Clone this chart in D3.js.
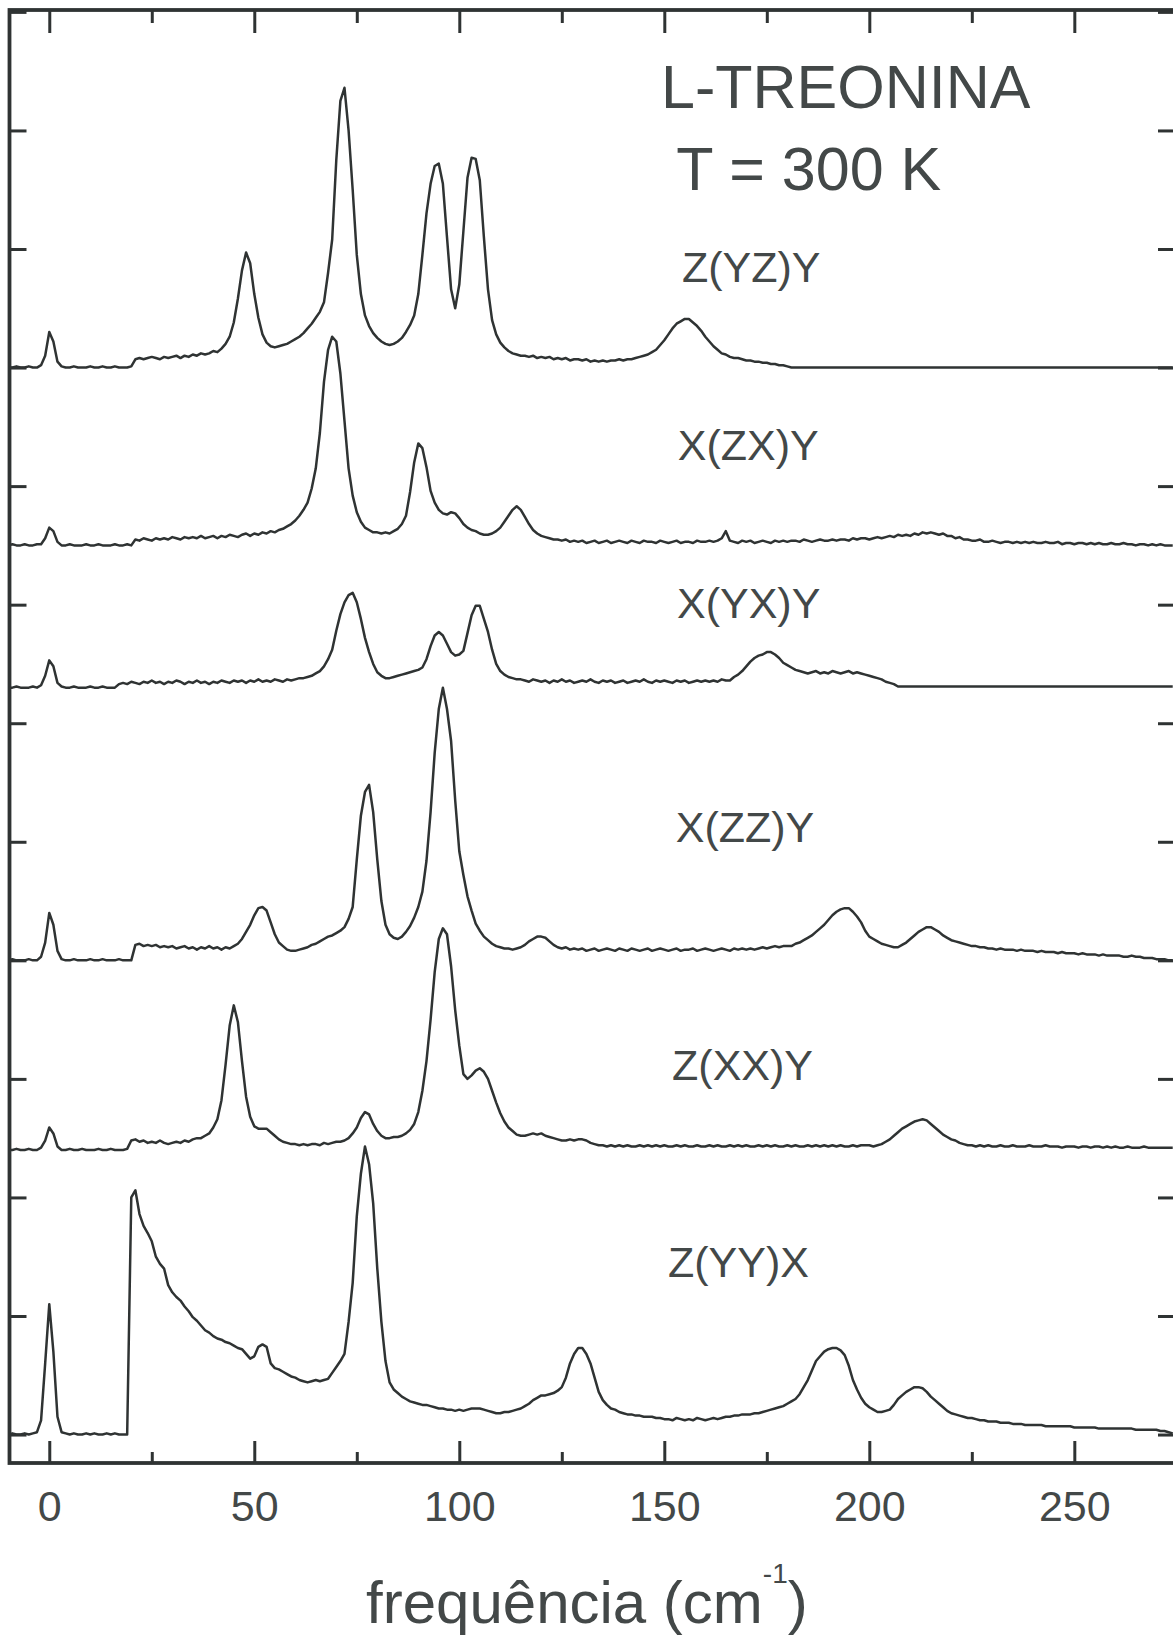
<!DOCTYPE html>
<html>
<head>
<meta charset="utf-8">
<script src="https://cdn.jsdelivr.net/npm/d3@7"></script>
<style>
  body { margin: 0; background: #fff; }
  svg { display: block; }
  text { font-family: "Liberation Sans", Arial, Helvetica, sans-serif; fill: #434848; }
</style>
</head>
<body>
<svg id="chart" width="1173" height="1636"></svg>
<script>
// Raman spectra of L-threonine at 300 K, six scattering geometries.
// Every spectrum is sampled once per cm-1, starting at freqStart.
const freqStart = -10;

// Z(YZ)Y
const zyz = [
  /* -10 */ 0,0,1,0,0,1,0,0,2,10,
  /*   0 */ 30,22,5,1,0,0,1,0,0,0,
  /*  10 */ 1,0,0,1,0,0,1,0,0,0,
  /*  20 */ 1,7,8,7,8,9,8,7,9,8,
  /*  30 */ 9,10,8,10,9,11,10,12,11,12,
  /*  40 */ 14,13,16,20,26,38,58,82,97,88,
  /*  50 */ 62,42,28,21,18,17,18,19,20,22,
  /*  60 */ 24,26,29,33,37,42,47,55,80,108,
  /*  70 */ 175,225,236,200,150,95,62,44,35,29,
  /*  80 */ 25,22,20,19,20,22,25,30,36,44,
  /*  90 */ 62,95,130,155,170,172,155,110,66,50,
  /* 100 */ 70,115,160,177,176,158,110,66,40,28,
  /* 110 */ 21,17,14,12,11,10,10,9,10,8,
  /* 120 */ 9,8,9,7,8,7,8,6,7,7,
  /* 130 */ 6,7,5,6,5,6,5,6,6,7,
  /* 140 */ 6,7,7,8,9,10,11,13,15,19,
  /* 150 */ 23,28,33,37,39,41,41,38,35,31,
  /* 160 */ 26,22,18,15,12,11,9,8,8,7,
  /* 170 */ 6,6,5,5,4,4,3,3,2,2,
  /* 180 */ 1,0,0,0,0,0,0,0,0,0,
  /* 190 */ 0,0,0,0,0,0,0,0,0,0,
  /* 200 */ 0,0,0,0,0,0,0,0,0,0,
  /* 210 */ 0,0,0,0,0,0,0,0,0,0,
  /* 220 */ 0,0,0,0,0,0,0,0,0,0,
  /* 230 */ 0,0,0,0,0,0,0,0,0,0,
  /* 240 */ 0,0,0,0,0,0,0,0,0,0,
  /* 250 */ 0,0,0,0,0,0,0,0,0,0,
  /* 260 */ 0,0,0,0,0,0,0,0,0,0,
  /* 270 */ 0,0,0,0,0
];

// X(ZX)Y
const xzx = [
  /* -10 */ 0,1,0,0,1,0,0,1,1,6,
  /*   0 */ 15,12,3,0,0,1,0,0,0,1,
  /*  10 */ 0,0,1,0,0,0,1,0,0,1,
  /*  20 */ 0,5,4,6,5,4,6,5,6,5,
  /*  30 */ 7,6,5,7,6,7,6,8,6,7,
  /*  40 */ 8,6,8,7,9,8,7,9,10,8,
  /*  50 */ 10,9,11,10,12,11,13,14,16,18,
  /*  60 */ 21,25,30,36,48,65,95,138,165,176,
  /*  70 */ 172,145,105,65,42,28,20,15,13,11,
  /*  80 */ 11,10,11,10,12,14,18,25,45,70,
  /*  90 */ 86,82,66,46,36,30,27,26,28,27,
  /* 100 */ 23,18,15,13,12,10,9,9,10,12,
  /* 110 */ 15,20,25,30,33,30,24,18,13,10,
  /* 120 */ 8,7,6,5,5,4,5,3,4,3,
  /* 130 */ 4,2,3,4,2,3,4,2,3,4,
  /* 140 */ 3,2,4,3,2,4,3,3,2,4,
  /* 150 */ 3,2,3,4,2,3,3,2,4,3,
  /* 160 */ 3,4,3,4,6,12,4,3,2,4,
  /* 170 */ 3,4,2,3,4,3,2,4,3,4,
  /* 180 */ 3,4,4,3,5,4,3,4,5,4,
  /* 190 */ 4,5,4,5,5,4,6,5,6,6,
  /* 200 */ 5,6,7,6,7,8,7,9,8,9,
  /* 210 */ 8,10,9,11,10,11,10,9,10,8,
  /* 220 */ 8,6,7,5,5,4,4,5,3,3,
  /* 230 */ 4,3,2,3,3,2,3,2,3,2,
  /* 240 */ 3,2,2,3,2,2,3,1,2,2,
  /* 250 */ 1,2,2,1,2,1,2,1,1,2,
  /* 260 */ 1,1,2,1,1,0,1,1,0,1,
  /* 270 */ 0,1,0,0,0
];

// X(YX)Y
const xyx = [
  /* -10 */ 0,0,1,0,0,0,1,0,2,10,
  /*   0 */ 23,18,4,1,0,0,1,0,0,0,
  /*  10 */ 1,0,0,1,0,0,0,3,4,3,
  /*  20 */ 5,4,3,5,4,6,4,5,3,5,
  /*  30 */ 4,6,5,3,5,4,6,4,5,3,
  /*  40 */ 5,4,6,5,4,6,5,6,4,6,
  /*  50 */ 5,7,5,6,5,7,6,5,7,6,
  /*  60 */ 7,8,8,9,10,12,14,18,24,32,
  /*  70 */ 48,62,72,78,80,72,58,42,30,20,
  /*  80 */ 13,10,8,8,9,10,11,12,13,14,
  /*  90 */ 15,17,24,35,44,47,44,37,30,27,
  /* 100 */ 28,31,46,61,69,69,58,47,32,20,
  /* 110 */ 14,11,9,8,7,7,6,5,7,6,
  /* 120 */ 5,6,4,6,5,7,5,6,4,5,
  /* 130 */ 6,5,7,5,4,6,5,6,4,5,
  /* 140 */ 6,4,5,6,5,7,5,4,6,5,
  /* 150 */ 6,5,4,6,5,6,4,5,6,5,
  /* 160 */ 6,5,6,5,7,6,6,9,11,14,
  /* 170 */ 18,22,25,27,28,30,30,28,25,21,
  /* 180 */ 19,17,15,14,13,12,13,14,12,13,
  /* 190 */ 12,14,13,12,13,14,12,13,12,11,
  /* 200 */ 10,9,8,7,5,4,3,1,1,1,
  /* 210 */ 1,1,1,1,1,1,1,1,1,1,
  /* 220 */ 1,1,1,1,1,1,1,1,1,1,
  /* 230 */ 1,1,1,1,1,1,1,1,1,1,
  /* 240 */ 1,1,1,1,1,1,1,1,1,1,
  /* 250 */ 1,1,1,1,1,1,1,1,1,1,
  /* 260 */ 1,1,1,1,1,1,1,1,1,1,
  /* 270 */ 1,1,1,1,1
];

// X(ZZ)Y
const xzz = [
  /* -10 */ 0,1,0,0,0,1,0,0,3,15,
  /*   0 */ 40,30,8,1,0,0,1,0,0,0,
  /*  10 */ 1,0,0,1,0,0,0,1,0,0,
  /*  20 */ 0,13,14,12,13,12,13,11,12,11,
  /*  30 */ 12,10,11,12,10,11,9,11,10,12,
  /*  40 */ 10,11,9,11,10,12,14,18,24,30,
  /*  50 */ 38,44,45,42,32,22,15,12,9,8,
  /*  60 */ 8,9,10,11,13,14,16,18,20,21,
  /*  70 */ 23,25,28,35,45,85,122,142,148,125,
  /*  80 */ 85,50,30,22,19,18,20,24,29,36,
  /*  90 */ 45,58,84,125,175,212,230,212,185,135,
  /* 100 */ 92,72,54,42,31,25,20,17,14,12,
  /* 110 */ 11,10,10,9,10,11,13,16,18,20,
  /* 120 */ 20,19,16,13,11,10,11,9,10,9,
  /* 130 */ 10,8,9,10,8,9,10,9,8,10,
  /* 140 */ 9,8,10,9,8,9,10,8,9,10,
  /* 150 */ 9,8,9,10,8,9,9,10,8,9,
  /* 160 */ 10,9,8,9,10,9,8,10,9,10,
  /* 170 */ 9,10,9,10,11,10,11,12,11,12,
  /* 180 */ 12,12,14,15,17,19,21,24,27,30,
  /* 190 */ 34,38,41,43,44,44,41,37,32,25,
  /* 200 */ 20,18,16,14,13,12,11,11,13,15,
  /* 210 */ 18,21,24,26,28,28,26,24,21,19,
  /* 220 */ 17,16,15,14,13,12,12,11,11,10,
  /* 230 */ 10,9,10,9,9,9,8,9,8,8,
  /* 240 */ 8,7,8,7,7,7,6,7,6,6,
  /* 250 */ 6,5,6,5,5,5,4,5,4,4,
  /* 260 */ 4,4,3,3,4,3,3,2,2,2,
  /* 270 */ 1,1,1,0,0
];

// Z(XX)Y
const zxx = [
  /* -10 */ 0,0,1,0,0,1,0,0,2,8,
  /*   0 */ 19,14,3,0,0,1,0,0,1,0,
  /*  10 */ 0,0,1,0,0,1,0,0,0,1,
  /*  20 */ 8,9,7,8,6,7,6,8,6,5,
  /*  30 */ 6,7,6,8,7,9,10,10,12,14,
  /*  40 */ 19,26,42,72,105,122,108,75,45,28,
  /*  50 */ 20,18,18,18,15,12,9,7,6,5,
  /*  60 */ 5,4,5,4,5,5,4,6,5,6,
  /*  70 */ 7,7,8,10,14,19,27,32,30,22,
  /*  80 */ 16,12,10,10,11,11,12,14,17,22,
  /*  90 */ 32,50,75,110,150,178,187,182,155,118,
  /* 100 */ 88,64,60,63,67,69,66,60,50,40,
  /* 110 */ 31,24,19,16,13,12,12,13,14,13,
  /* 120 */ 14,12,11,10,9,8,8,9,8,9,
  /* 130 */ 9,8,6,5,4,4,3,4,3,4,
  /* 140 */ 3,4,3,3,4,3,4,3,4,3,
  /* 150 */ 4,3,3,4,3,4,3,3,4,3,
  /* 160 */ 3,4,3,4,3,3,4,3,4,3,
  /* 170 */ 4,3,3,4,3,4,3,4,3,3,
  /* 180 */ 4,3,4,3,3,4,3,4,3,4,
  /* 190 */ 3,4,3,4,3,3,4,3,4,4,
  /* 200 */ 4,3,4,5,7,9,12,15,18,20,
  /* 210 */ 22,24,25,26,25,22,19,16,13,11,
  /* 220 */ 9,8,6,5,4,4,3,4,3,4,
  /* 230 */ 3,3,4,3,3,4,3,3,3,4,
  /* 240 */ 3,3,3,4,3,3,3,2,3,3,
  /* 250 */ 3,2,3,3,2,3,3,2,3,2,
  /* 260 */ 3,2,2,3,2,2,2,3,2,2,
  /* 270 */ 2,2,2,2,2
];

// Z(YY)X
const zyy = [
  /* -10 */ 0,1,0,0,1,0,1,2,12,60,
  /*   0 */ 110,70,15,2,1,0,1,0,0,1,
  /*  10 */ 0,1,0,0,1,0,1,0,0,0,
  /*  20 */ 200,206,186,176,170,163,150,144,140,126,
  /*  30 */ 120,116,113,108,104,99,96,92,88,86,
  /*  40 */ 83,81,80,78,77,75,73,72,68,64,
  /*  50 */ 66,74,76,74,60,56,55,53,51,49,
  /*  60 */ 48,46,45,44,45,46,45,46,47,52,
  /*  70 */ 57,62,68,95,128,184,220,243,228,195,
  /*  80 */ 140,95,62,44,38,35,32,30,28,27,
  /*  90 */ 26,25,25,24,23,22,22,21,21,20,
  /* 100 */ 21,20,21,22,22,22,21,20,19,18,
  /* 110 */ 18,19,19,20,21,22,24,26,29,31,
  /* 120 */ 33,33,34,35,37,40,48,60,68,73,
  /* 130 */ 73,68,60,48,36,29,25,22,21,19,
  /* 140 */ 18,17,17,16,16,15,15,15,14,14,
  /* 150 */ 13,13,12,14,13,12,13,12,14,13,
  /* 160 */ 12,13,14,13,14,15,15,16,16,17,
  /* 170 */ 17,17,18,18,19,20,21,22,23,24,
  /* 180 */ 26,28,30,34,40,46,54,62,66,70,
  /* 190 */ 72,73,73,71,67,58,46,38,31,26,
  /* 200 */ 23,21,19,19,20,21,25,30,33,36,
  /* 210 */ 38,40,40,39,36,32,29,26,23,20,
  /* 220 */ 18,17,16,15,14,14,13,12,12,11,
  /* 230 */ 11,11,10,10,10,9,9,9,8,8,
  /* 240 */ 8,8,8,7,7,7,7,7,7,7,
  /* 250 */ 6,6,6,6,6,6,5,5,5,5,
  /* 260 */ 5,5,5,5,5,4,4,4,4,4,
  /* 270 */ 4,3,3,2,1
];

// Scattering geometry of each trace, top to bottom, and its vertical offset
const geometries = ["Z(YZ)Y", "X(ZX)Y", "X(YX)Y", "X(ZZ)Y", "Z(XX)Y", "Z(YY)X"];
const offsets = [900, 750, 630, 400, 240, 0];
const spectra = [zyz, xzx, xyx, xzz, zxx, zyy];

// Axis ticks
const xMajorTicks = [0, 50, 100, 150, 200, 250];
const xMinorTicks = [25, 75, 125, 175, 225];
const xTickLabels = ["0", "50", "100", "150", "200", "250"];
const yTicks = [0, 100, 200, 300, 400, 500, 600, 700, 800, 900, 1000, 1100, 1200];

const title = ["L-TREONINA", "T = 300 K"];

// ---- layout ----
const plot = { left: 9.5, right: 1176, top: 10, bottom: 1463 };
const ink = "#2f3333";

const svg = d3.select("#chart");
const x = d3.scaleLinear().domain([-9.7, 274.8]).range([plot.left, plot.right]);
const y = d3.scaleLinear().domain([-24, 1201.6]).range([plot.bottom, plot.top]);

svg.append("defs").append("clipPath").attr("id", "plot-area")
  .append("rect")
  .attr("x", plot.left).attr("y", plot.top)
  .attr("width", plot.right - plot.left).attr("height", plot.bottom - plot.top);

// spectra
const traces = svg.append("g").attr("clip-path", "url(#plot-area)");
spectra.forEach((values, k) => {
  const line = d3.line()
    .x((d, i) => x(freqStart + i))
    .y(d => y(d + offsets[k]));
  traces.append("path")
    .datum(values)
    .attr("d", line)
    .attr("fill", "none")
    .attr("stroke", ink)
    .attr("stroke-width", 2.5)
    .attr("stroke-linejoin", "round");
});

// frame
svg.append("rect")
  .attr("x", plot.left).attr("y", plot.top)
  .attr("width", plot.right - plot.left).attr("height", plot.bottom - plot.top)
  .attr("fill", "none").attr("stroke", ink).attr("stroke-width", 3.8);

function styleAxis(g) {
  g.select(".domain").remove();
  g.selectAll(".tick line").attr("stroke", ink).attr("stroke-width", 3);
}

// bottom axis, ticks pointing inward
svg.append("g").attr("transform", `translate(0,${plot.bottom})`)
  .call(d3.axisBottom(x).tickValues(xMajorTicks).tickSize(-22).tickPadding(27)
    .tickFormat((d, i) => xTickLabels[i]))
  .call(styleAxis)
  .call(g => g.selectAll(".tick text")
    .attr("font-size", 43)
    .attr("font-family", "'Liberation Sans', Arial, sans-serif")
    .attr("fill", "#434848"));
svg.append("g").attr("transform", `translate(0,${plot.bottom})`)
  .call(d3.axisBottom(x).tickValues(xMinorTicks).tickSize(-11).tickFormat(""))
  .call(styleAxis);

// top axis
svg.append("g").attr("transform", `translate(0,${plot.top})`)
  .call(d3.axisTop(x).tickValues(xMajorTicks).tickSize(-23).tickFormat(""))
  .call(styleAxis);
svg.append("g").attr("transform", `translate(0,${plot.top})`)
  .call(d3.axisTop(x).tickValues(xMinorTicks).tickSize(-13).tickFormat(""))
  .call(styleAxis);

// left and right axes (no labels, arbitrary intensity)
svg.append("g").attr("transform", `translate(${plot.left},0)`)
  .call(d3.axisLeft(y).tickValues(yTicks).tickSize(-17).tickFormat(""))
  .call(styleAxis);
svg.append("g").attr("transform", `translate(${plot.right},0)`)
  .call(d3.axisRight(y).tickValues(yTicks).tickSize(-18).tickFormat(""))
  .call(styleAxis);

// geometry labels, placed in data coordinates (cm-1, intensity)
const labelAnchors = [[154.3, 972], [153.3, 822], [153.1, 689], [152.8, 500], [151.9, 299], [150.9, 133]];
svg.append("g").selectAll("text")
  .data(geometries)
  .join("text")
  .attr("x", (d, i) => x(labelAnchors[i][0]))
  .attr("y", (d, i) => y(labelAnchors[i][1]))
  .attr("font-size", 43)
  .text(d => d);

// sample and temperature
const titleAnchors = [[149.2, 1119], [152.9, 1050]];
svg.append("g").selectAll("text")
  .data(title)
  .join("text")
  .attr("x", (d, i) => x(titleAnchors[i][0]))
  .attr("y", (d, i) => y(titleAnchors[i][1]))
  .attr("font-size", 61)
  .text(d => d);

// x-axis title with superscript
const xt = svg.append("text")
  .attr("x", 366).attr("y", 1623)
  .attr("font-size", 60);
xt.append("tspan").text("frequência (cm");
xt.append("tspan").attr("font-size", 28).attr("dy", -40).text("-1");
xt.append("tspan").attr("dy", 40).text(")");
</script>
</body>
</html>
